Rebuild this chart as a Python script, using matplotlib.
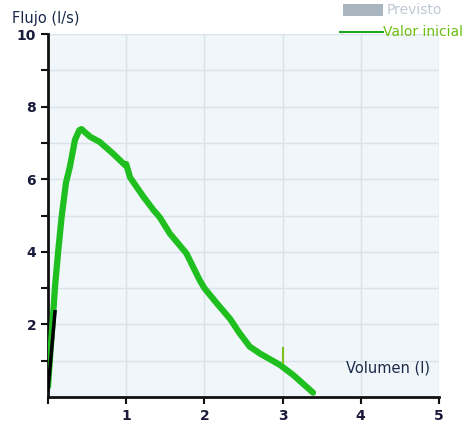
import matplotlib.pyplot as plt
import numpy as np

# flow-volume curve
volumen = [0.0, 0.03, 0.06, 0.09, 0.13, 0.175, 0.23, 0.28, 0.345, 0.40, 0.43, 0.47, 0.54, 0.66,
           0.83, 0.985, 1.0, 1.05, 1.22, 1.35, 1.43, 1.56, 1.77, 1.94, 2.0, 2.16, 2.33, 2.45,
           2.58, 2.71, 2.97, 3.14, 3.39]
flujo = [0.28, 1.2, 2.1, 3.04, 4.0, 4.97, 5.9, 6.34, 7.08, 7.35, 7.38, 7.3, 7.17, 7.03,
         6.71, 6.39, 6.42, 6.05, 5.52, 5.15, 4.95, 4.5, 3.96, 3.22, 3.0, 2.58, 2.15, 1.76,
         1.39, 1.2, 0.88, 0.6, 0.12]

# short black trace near the origin
vol_negro = [0.0, 0.09]
flujo_negro = [0.19, 2.35]

# small marker at 3 l
marca_x = [3.0, 3.0]
marca_y = [0.95, 1.35]

xticks = [0, 1, 2, 3, 4, 5]
xlabels = ['', '1', '2', '3', '4', '5']
yticks = [1, 2, 3, 4, 5, 6, 7, 8, 9, 10]
ylabels = ['', '2', '', '4', '', '6', '', '8', '', '10']

fig = plt.figure(figsize=(4.75, 4.28), dpi=100)
ax = fig.add_axes([0.101, 0.0724, 0.823, 0.848])
ax.set_facecolor('#f0f6fa')

ax.plot(volumen, flujo, color='#1fbf1f', lw=4.5, solid_capstyle='round', solid_joinstyle='round', zorder=3)
ax.plot(vol_negro, flujo_negro, color='black', lw=2.5, zorder=4)
ax.plot(marca_x, marca_y, color='#7fbf1f', lw=1.5, zorder=4)

ax.set_xlim(0, 5)
ax.set_ylim(0, 10)
ax.set_xticks(xticks)
ax.set_xticklabels(xlabels)
ax.set_yticks(yticks)
ax.set_yticklabels(ylabels)
ax.grid(True, color='#dae2ea', lw=1)
ax.set_axisbelow(True)

for s in ['top', 'right']:
    ax.spines[s].set_visible(False)
for s in ['left', 'bottom']:
    ax.spines[s].set_linewidth(2)
    ax.spines[s].set_color('#111111')
ax.tick_params(direction='out', length=5, width=1.5, colors='#111111', labelsize=10)
for lab in ax.get_xticklabels() + ax.get_yticklabels():
    lab.set_fontweight('bold')
    lab.set_color('#1a1a3a')

fig.text(0.025, 0.957, 'Flujo (l/s)', fontsize=10.5, color='#1a2a4a', va='center')
ax.text(4.88, 0.8, 'Volumen (l)', fontsize=10.5, color='#1a2a4a', ha='right', va='center')

# legend, drawn outside the plot at top right
fig.patches.append(plt.Rectangle((0.722, 0.962), 0.085, 0.028, transform=fig.transFigure,
                                 facecolor='#a9b6c0', edgecolor='none'))
fig.text(0.815, 0.976, 'Previsto', fontsize=10, color='#c0c8d4', va='center')
fig.lines.append(plt.Line2D([0.716, 0.807], [0.925, 0.925], transform=fig.transFigure,
                            color='#1fa81f', lw=1.5))
fig.text(0.807, 0.925, 'Valor inicial', fontsize=10, color='#6cbf10', va='center')

fig.savefig('out.png', dpi=100)
